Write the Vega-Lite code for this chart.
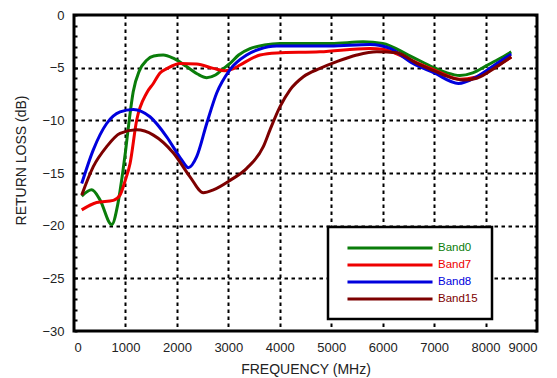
{
  "$schema": "https://vega.github.io/schema/vega-lite/v6.json",
  "width": 463,
  "height": 316,
  "autosize": {"type": "none"},
  "padding": {"left": 74, "top": 15, "right": 20, "bottom": 47},
  "background": "white",
  "config": {
    "view": {"stroke": "black", "strokeWidth": 3},
    "font": "Liberation Sans"
  },
  "data": {
    "values": [
      {"band": "Band0", "freq": 150, "rl": -17.2},
      {"band": "Band0", "freq": 344, "rl": -16.6},
      {"band": "Band0", "freq": 500, "rl": -17.5},
      {"band": "Band0", "freq": 733, "rl": -19.9},
      {"band": "Band0", "freq": 850, "rl": -18.0},
      {"band": "Band0", "freq": 946, "rl": -15.0},
      {"band": "Band0", "freq": 1000, "rl": -13.0},
      {"band": "Band0", "freq": 1073, "rl": -10.0},
      {"band": "Band0", "freq": 1150, "rl": -7.3},
      {"band": "Band0", "freq": 1270, "rl": -5.3},
      {"band": "Band0", "freq": 1413, "rl": -4.3},
      {"band": "Band0", "freq": 1550, "rl": -3.9},
      {"band": "Band0", "freq": 1735, "rl": -3.8},
      {"band": "Band0", "freq": 1930, "rl": -4.1},
      {"band": "Band0", "freq": 2190, "rl": -4.9},
      {"band": "Band0", "freq": 2400, "rl": -5.6},
      {"band": "Band0", "freq": 2580, "rl": -5.95},
      {"band": "Band0", "freq": 2750, "rl": -5.7},
      {"band": "Band0", "freq": 2900, "rl": -5.1},
      {"band": "Band0", "freq": 3033, "rl": -4.6},
      {"band": "Band0", "freq": 3200, "rl": -3.8},
      {"band": "Band0", "freq": 3421, "rl": -3.2},
      {"band": "Band0", "freq": 3700, "rl": -2.85},
      {"band": "Band0", "freq": 4000, "rl": -2.7},
      {"band": "Band0", "freq": 5000, "rl": -2.7},
      {"band": "Band0", "freq": 5620, "rl": -2.55},
      {"band": "Band0", "freq": 6000, "rl": -2.7},
      {"band": "Band0", "freq": 6500, "rl": -3.8},
      {"band": "Band0", "freq": 7000, "rl": -5.0},
      {"band": "Band0", "freq": 7250, "rl": -5.5},
      {"band": "Band0", "freq": 7500, "rl": -5.75},
      {"band": "Band0", "freq": 7750, "rl": -5.5},
      {"band": "Band0", "freq": 8023, "rl": -4.8},
      {"band": "Band0", "freq": 8250, "rl": -4.2},
      {"band": "Band0", "freq": 8500, "rl": -3.5},

      {"band": "Band7", "freq": 150, "rl": -18.5},
      {"band": "Band7", "freq": 440, "rl": -17.8},
      {"band": "Band7", "freq": 765, "rl": -17.6},
      {"band": "Band7", "freq": 894, "rl": -17.1},
      {"band": "Band7", "freq": 990, "rl": -15.8},
      {"band": "Band7", "freq": 1090, "rl": -14.1},
      {"band": "Band7", "freq": 1218, "rl": -10.0},
      {"band": "Band7", "freq": 1413, "rl": -7.4},
      {"band": "Band7", "freq": 1542, "rl": -6.5},
      {"band": "Band7", "freq": 1672, "rl": -5.5},
      {"band": "Band7", "freq": 1802, "rl": -5.1},
      {"band": "Band7", "freq": 2061, "rl": -4.6},
      {"band": "Band7", "freq": 2385, "rl": -4.65},
      {"band": "Band7", "freq": 2708, "rl": -5.07},
      {"band": "Band7", "freq": 2935, "rl": -5.3},
      {"band": "Band7", "freq": 3100, "rl": -5.1},
      {"band": "Band7", "freq": 3227, "rl": -4.75},
      {"band": "Band7", "freq": 3616, "rl": -3.8},
      {"band": "Band7", "freq": 3940, "rl": -3.6},
      {"band": "Band7", "freq": 4780, "rl": -3.5},
      {"band": "Band7", "freq": 5750, "rl": -3.17},
      {"band": "Band7", "freq": 6010, "rl": -3.25},
      {"band": "Band7", "freq": 6500, "rl": -4.2},
      {"band": "Band7", "freq": 7000, "rl": -5.2},
      {"band": "Band7", "freq": 7500, "rl": -6.1},
      {"band": "Band7", "freq": 7800, "rl": -5.9},
      {"band": "Band7", "freq": 8200, "rl": -4.9},
      {"band": "Band7", "freq": 8500, "rl": -4.0},

      {"band": "Band8", "freq": 150, "rl": -16.0},
      {"band": "Band8", "freq": 375, "rl": -12.8},
      {"band": "Band8", "freq": 635, "rl": -10.3},
      {"band": "Band8", "freq": 895, "rl": -9.2},
      {"band": "Band8", "freq": 1153, "rl": -8.96},
      {"band": "Band8", "freq": 1477, "rl": -9.66},
      {"band": "Band8", "freq": 1802, "rl": -11.56},
      {"band": "Band8", "freq": 2094, "rl": -13.77},
      {"band": "Band8", "freq": 2222, "rl": -14.5},
      {"band": "Band8", "freq": 2385, "rl": -13.45},
      {"band": "Band8", "freq": 2580, "rl": -10.3},
      {"band": "Band8", "freq": 2774, "rl": -7.4},
      {"band": "Band8", "freq": 3030, "rl": -5.2},
      {"band": "Band8", "freq": 3357, "rl": -3.8},
      {"band": "Band8", "freq": 3600, "rl": -3.25},
      {"band": "Band8", "freq": 3940, "rl": -2.94},
      {"band": "Band8", "freq": 4977, "rl": -2.94},
      {"band": "Band8", "freq": 5755, "rl": -2.8},
      {"band": "Band8", "freq": 6143, "rl": -3.17},
      {"band": "Band8", "freq": 6590, "rl": -4.6},
      {"band": "Band8", "freq": 7000, "rl": -5.5},
      {"band": "Band8", "freq": 7472, "rl": -6.5},
      {"band": "Band8", "freq": 7830, "rl": -5.86},
      {"band": "Band8", "freq": 8218, "rl": -4.6},
      {"band": "Band8", "freq": 8500, "rl": -3.7},

      {"band": "Band15", "freq": 150, "rl": -17.1},
      {"band": "Band15", "freq": 375, "rl": -14.4},
      {"band": "Band15", "freq": 635, "rl": -12.5},
      {"band": "Band15", "freq": 895, "rl": -11.24},
      {"band": "Band15", "freq": 1218, "rl": -10.9},
      {"band": "Band15", "freq": 1543, "rl": -11.4},
      {"band": "Band15", "freq": 1932, "rl": -13.1},
      {"band": "Band15", "freq": 2255, "rl": -15.36},
      {"band": "Band15", "freq": 2514, "rl": -16.87},
      {"band": "Band15", "freq": 2708, "rl": -16.6},
      {"band": "Band15", "freq": 3033, "rl": -15.7},
      {"band": "Band15", "freq": 3357, "rl": -14.56},
      {"band": "Band15", "freq": 3680, "rl": -12.5},
      {"band": "Band15", "freq": 3810, "rl": -10.9},
      {"band": "Band15", "freq": 4005, "rl": -8.7},
      {"band": "Band15", "freq": 4200, "rl": -7.1},
      {"band": "Band15", "freq": 4458, "rl": -5.86},
      {"band": "Band15", "freq": 4782, "rl": -5.07},
      {"band": "Band15", "freq": 5107, "rl": -4.43},
      {"band": "Band15", "freq": 5496, "rl": -3.8},
      {"band": "Band15", "freq": 5885, "rl": -3.48},
      {"band": "Band15", "freq": 6273, "rl": -3.58},
      {"band": "Band15", "freq": 6662, "rl": -4.6},
      {"band": "Band15", "freq": 7000, "rl": -5.3},
      {"band": "Band15", "freq": 7300, "rl": -5.9},
      {"band": "Band15", "freq": 7568, "rl": -6.17},
      {"band": "Band15", "freq": 7828, "rl": -6.0},
      {"band": "Band15", "freq": 8217, "rl": -4.9},
      {"band": "Band15", "freq": 8500, "rl": -3.96}
    ]
  },
  "layer": [
    {
      "mark": {"type": "line", "interpolate": "monotone", "strokeWidth": 3},
      "encoding": {
        "x": {
          "field": "freq",
          "type": "quantitative",
          "scale": {"domain": [0, 9000], "nice": false},
          "axis": {
            "title": "FREQUENCY (MHz)",
            "values": [0, 1000, 2000, 3000, 4000, 5000, 6000, 7000, 8000, 9000],
            "format": "d",
            "domain": false,
            "ticks": false,
            "labelPadding": 10,
            "labelFontSize": 13,
            "labelColor": "#222",
            "titleFontSize": 14,
            "titleFontWeight": "normal",
            "titleColor": "#222",
            "titlePadding": 8,
            "grid": true,
            "gridColor": "black",
            "gridDash": [3.5, 3.5],
            "gridWidth": 2,
            "gridOpacity": {"condition": {"test": "datum.value === 0 || datum.value === 9000", "value": 0}, "value": 1}
          }
        },
        "y": {
          "field": "rl",
          "type": "quantitative",
          "scale": {"domain": [-30, 0], "nice": false},
          "axis": {
            "title": "RETURN LOSS (dB)",
            "values": [-30, -29, -28, -27, -26, -25, -24, -23, -22, -21, -20, -19, -18, -17, -16, -15, -14, -13, -12, -11, -10, -9, -8, -7, -6, -5, -4, -3, -2, -1, 0],
            "labelExpr": "datum.value % 5 === 0 ? datum.label : ''",
            "domain": false,
            "ticks": true,
            "tickSize": -3,
            "tickWidth": 2,
            "tickColor": "black",
            "labelPadding": 13,
            "labelFontSize": 13,
            "labelColor": "#222",
            "titleFontSize": 14,
            "titleFontWeight": "normal",
            "titleColor": "#222",
            "titleX": -46,
            "titleY": 145,
            "grid": true,
            "gridColor": "black",
            "gridDash": [3.5, 3.5],
            "gridWidth": 2,
            "gridOpacity": {"condition": {"test": "datum.value % 5 !== 0 || datum.value === 0 || datum.value === -30", "value": 0}, "value": 1}
          }
        },
        "color": {
          "field": "band",
          "type": "nominal",
          "scale": {
            "domain": ["Band0", "Band7", "Band8", "Band15"],
            "range": ["#0a7d0a", "#ee0000", "#0000dd", "#7d0000"]
          },
          "legend": {
            "title": null,
            "orient": "none",
            "legendX": 254,
            "legendY": 212,
            "symbolType": "M-8,0H8",
            "symbolSize": 113,
            "symbolStrokeWidth": 3,
            "symbolOffset": 41,
            "labelFontSize": 11.5,
            "labelOffset": 41,
            "rowPadding": 4,
            "padding": 14,
            "strokeColor": "black",
            "fillColor": "white",
            "encode": {
              "legend": {"update": {"strokeWidth": {"value": 2.5}}},
              "labels": {"update": {"fill": {"signal": "scale('color', datum.value)"}}}
            }
          }
        }
      }
    },
    {
      "mark": {"type": "line", "opacity": 0},
      "encoding": {
        "x": {"field": "freq", "type": "quantitative"},
        "y": {
          "field": "rl",
          "type": "quantitative",
          "axis": {
            "orient": "right",
            "title": null,
            "values": [-30, -29, -28, -27, -26, -25, -24, -23, -22, -21, -20, -19, -18, -17, -16, -15, -14, -13, -12, -11, -10, -9, -8, -7, -6, -5, -4, -3, -2, -1, 0],
            "labels": false,
            "domain": false,
            "grid": false,
            "ticks": true,
            "tickSize": -3,
            "tickWidth": 2,
            "tickColor": "black"
          }
        },
        "detail": {"field": "band", "type": "nominal"}
      }
    }
  ],
  "resolve": {"axis": {"y": "independent"}}
}
